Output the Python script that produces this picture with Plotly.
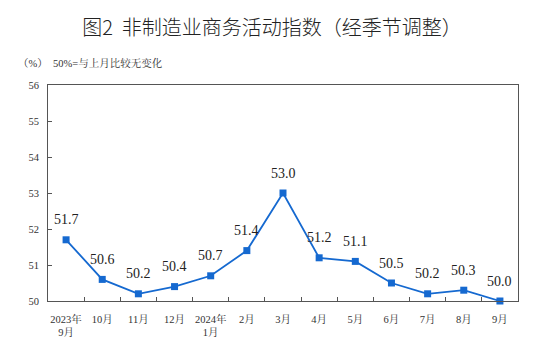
import plotly.graph_objects as go

categories = ["2023年<br>9月", "10月", "11月", "12月", "2024年<br>1月", "2月", "3月",
              "4月", "5月", "6月", "7月", "8月", "9月"]
values = [51.7, 50.6, 50.2, 50.4, 50.7, 51.4, 53.0, 51.2, 51.1, 50.5, 50.2, 50.3, 50.0]
y_ticks = [50, 51, 52, 53, 54, 55, 56]

serif = "Liberation Serif, Noto Serif CJK SC, Noto Sans CJK SC, serif"
color = "#1569d0"

fig = go.Figure()
fig.add_trace(go.Scatter(
    x=list(range(len(categories))), y=values, mode="lines+markers",
    line=dict(color=color, width=1.8),
    marker=dict(symbol="square", size=7, color=color),
    cliponaxis=False, hoverinfo="skip"))

for i, v in enumerate(values):
    fig.add_annotation(x=i, y=v, text=f"{v:.1f}", showarrow=False, yshift=20,
                       font=dict(family=serif, size=14, color="#222"))

fig.update_layout(
    width=544, height=353, margin=dict(l=48, r=26, t=85, b=52),
    paper_bgcolor="white", plot_bgcolor="white", showlegend=False,
    title=dict(text="图2  非制造业商务活动指数（经季节调整）", x=0.5, xanchor="center",
               y=0.92, yanchor="middle",
               font=dict(family="Noto Sans CJK SC", size=20, color="#222", weight=300)),
    xaxis=dict(range=[-0.5, len(categories) - 0.5], tickmode="array",
               tickvals=list(range(len(categories))), ticktext=categories,
               showgrid=False, zeroline=False, showline=True, mirror=True,
               linecolor="#555", linewidth=1, ticks="",
               tickfont=dict(family=serif, size=10.5, color="#333"),
               ticklabelstandoff=8),
    yaxis=dict(range=[50, 56], tickvals=y_ticks, showgrid=False, zeroline=False,
               showline=True, mirror=True, linecolor="#555", linewidth=1,
               ticks="inside", ticklen=4, tickcolor="#555",
               tickfont=dict(family=serif, size=10.5, color="#333"),
               ticklabelstandoff=6),
)
# inside ticks at category boundaries on x axis
fig.update_xaxes(minor=dict(tickvals=[i + 0.5 for i in range(len(categories) - 1)],
                            ticks="inside", ticklen=4, tickcolor="#555"))
fig.add_annotation(xref="paper", yref="paper", x=-0.068, y=1.10, xanchor="left",
                   yanchor="middle", showarrow=False, text="（%）  50%=与上月比较无变化",
                   font=dict(family=serif, size=10.5, color="#333"))
fig.write_html("out.html")
